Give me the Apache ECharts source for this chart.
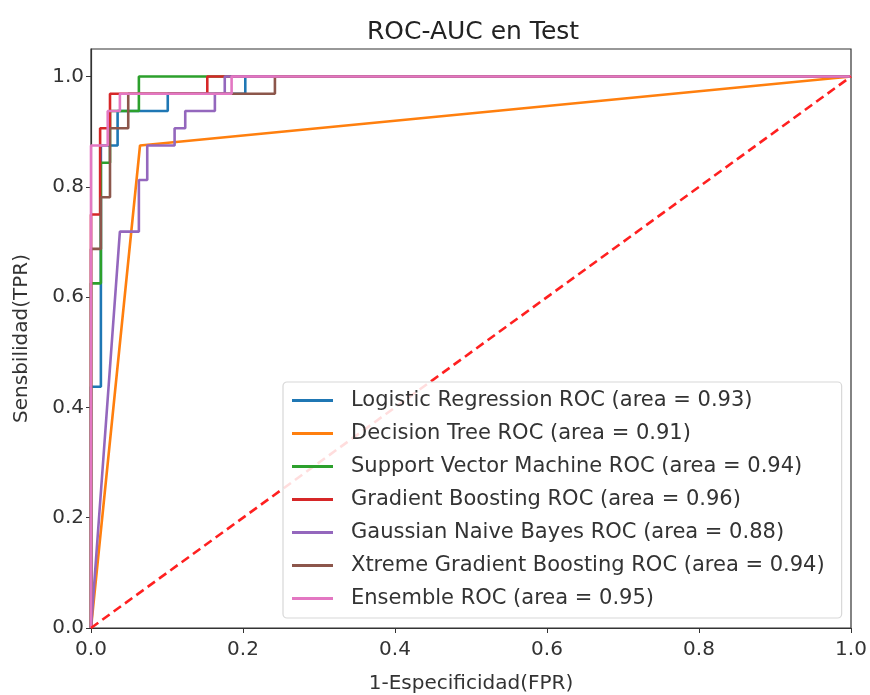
<!DOCTYPE html>
<html>
<head>
<meta charset="utf-8">
<script src="https://cdn.jsdelivr.net/npm/echarts@6/dist/echarts.min.js"></script>
<style>
  html, body { margin: 0; padding: 0; background: #fff; }
  #rocChart { width: 870px; height: 695px; }
</style>
</head>
<body>
<div id="rocChart"></div>
<script>
// curvas ROC (FPR / TPR)
var lrFpr = [0, 0, 0.013, 0.013, 0.035, 0.035, 0.101, 0.101, 0.203, 0.203, 1];
var lrTpr = [0, 0.4375, 0.4375, 0.875, 0.875, 0.9375, 0.9375, 0.96875, 0.96875, 1, 1];

var dtFpr = [0, 0.0645, 1];
var dtTpr = [0, 0.875, 1];

var svmFpr = [0, 0, 0.013, 0.013, 0.025, 0.025, 0.063, 0.063, 1];
var svmTpr = [0, 0.625, 0.625, 0.84375, 0.84375, 0.9375, 0.9375, 1, 1];

var gbFpr = [0, 0, 0.012, 0.012, 0.025, 0.025, 0.153, 0.153, 1];
var gbTpr = [0, 0.75, 0.75, 0.90625, 0.90625, 0.96875, 0.96875, 1, 1];

var gnbFpr = [0, 0.038, 0.063, 0.063, 0.074, 0.074, 0.11, 0.11, 0.124, 0.124, 0.163, 0.163, 0.176, 0.176, 1];
var gnbTpr = [0, 0.71875, 0.71875, 0.8125, 0.8125, 0.875, 0.875, 0.90625, 0.90625, 0.9375, 0.9375, 0.96875, 0.96875, 1, 1];

var xgbFpr = [0, 0, 0.013, 0.013, 0.025, 0.025, 0.049, 0.049, 0.242, 0.242, 1];
var xgbTpr = [0, 0.6875, 0.6875, 0.78125, 0.78125, 0.90625, 0.90625, 0.96875, 0.96875, 1, 1];

var ensFpr = [0, 0, 0.022, 0.022, 0.038, 0.038, 0.185, 0.185, 1];
var ensTpr = [0, 0.875, 0.875, 0.9375, 0.9375, 0.96875, 0.96875, 1, 1];

var diagFpr = [0, 1];
var diagTpr = [0, 1];

var modelNames = [
  'Logistic Regression ROC (area = 0.93)',
  'Decision Tree ROC (area = 0.91)',
  'Support Vector Machine ROC (area = 0.94)',
  'Gradient Boosting ROC (area = 0.96)',
  'Gaussian Naive Bayes ROC (area = 0.88)',
  'Xtreme Gradient Boosting ROC (area = 0.94)',
  'Ensemble ROC (area = 0.95)'
];
var colors = ['#1f77b4', '#ff7f0e', '#2ca02c', '#d62728', '#9467bd', '#8c564b', '#e377c2'];
var axisTicks = [0, 0.2, 0.4, 0.6, 0.8, 1.0];

var curves = [
  [lrFpr, lrTpr], [dtFpr, dtTpr], [svmFpr, svmTpr], [gbFpr, gbTpr],
  [gnbFpr, gnbTpr], [xgbFpr, xgbTpr], [ensFpr, ensTpr]
];

function zip(xs, ys) {
  return xs.map(function (x, i) { return [x, ys[i]]; });
}

var font = 'DejaVu Sans';
var axisColor = '#333';
var textColor = '#333';

var series = curves.map(function (c, i) {
  return {
    name: modelNames[i],
    type: 'line',
    data: zip(c[0], c[1]),
    showSymbol: false,
    symbol: 'none',
    animation: false,
    lineStyle: { color: colors[i], width: 2.6 },
    itemStyle: { color: colors[i] },
    z: 2,
    zlevel: 0
  };
});
// diagonal de referencia (queda por debajo de la leyenda)
series.push({
  type: 'line',
  data: zip(diagFpr, diagTpr),
  showSymbol: false,
  symbol: 'none',
  animation: false,
  lineStyle: { color: '#ff2020', width: 2.6, type: [9, 5] },
  z: 3
});

var myChart = echarts.init(document.getElementById('rocChart'));
var option = {
  backgroundColor: '#fff',
  animation: false,
  title: {
    text: 'ROC-AUC en Test',
    left: 468,
    top: 15,
    textAlign: 'center',
    textStyle: { fontFamily: font, fontSize: 25, fontWeight: 'normal', color: '#222' }
  },
  grid: {
    left: 91, right: 19, top: 49, bottom: 67,
    outerBoundsMode: 'none',
    show: true,
    borderColor: axisColor,
    borderWidth: 1.2,
    backgroundColor: '#fff'
  },
  legend: {
    data: modelNames,
    orient: 'vertical',
    left: 283,
    top: 382,
    z: 10,
    padding: [8, 17, 9, 9],
    itemGap: 12,
    itemWidth: 41,
    itemHeight: 3,
    icon: 'rect',
    backgroundColor: 'rgba(255,255,255,0.85)',
    borderColor: '#d8d8d8',
    borderWidth: 1.2,
    borderRadius: 4,
    selectedMode: false,
    textStyle: { fontFamily: font, fontSize: 21, color: textColor, padding: [0, 0, 0, 13] }
  },
  xAxis: {
    type: 'value',
    min: 0,
    max: 1,
    interval: 0.2,
    name: '1-Especificidad(FPR)',
    nameLocation: 'middle',
    nameGap: 46,
    nameTextStyle: { fontFamily: font, fontSize: 20, color: textColor },
    axisLine: { show: true, lineStyle: { color: axisColor, width: 1.2 } },
    axisTick: { show: true, length: 5, lineStyle: { color: axisColor } },
    splitLine: { show: false },
    axisLabel: {
      fontFamily: font, fontSize: 20, color: textColor, margin: 12,
      formatter: function (v) { return v.toFixed(1); }
    }
  },
  yAxis: {
    type: 'value',
    min: 0,
    max: 1.05,
    name: 'Sensbilidad(TPR)',
    nameLocation: 'middle',
    nameGap: 59,
    nameRotate: 90,
    nameTextStyle: { fontFamily: font, fontSize: 20, color: textColor },
    axisLine: { show: true, lineStyle: { color: axisColor, width: 1.2 } },
    axisTick: { show: true, length: 5, lineStyle: { color: axisColor }, customValues: axisTicks },
    splitLine: { show: false },
    axisLabel: {
      fontFamily: font, fontSize: 20, color: textColor, margin: 7,
      customValues: axisTicks,
      formatter: function (v) { return v.toFixed(1); }
    }
  },
  series: series
};
myChart.setOption(option);
window.addEventListener('resize', function () { myChart.resize(); });
</script>
</body>
</html>
